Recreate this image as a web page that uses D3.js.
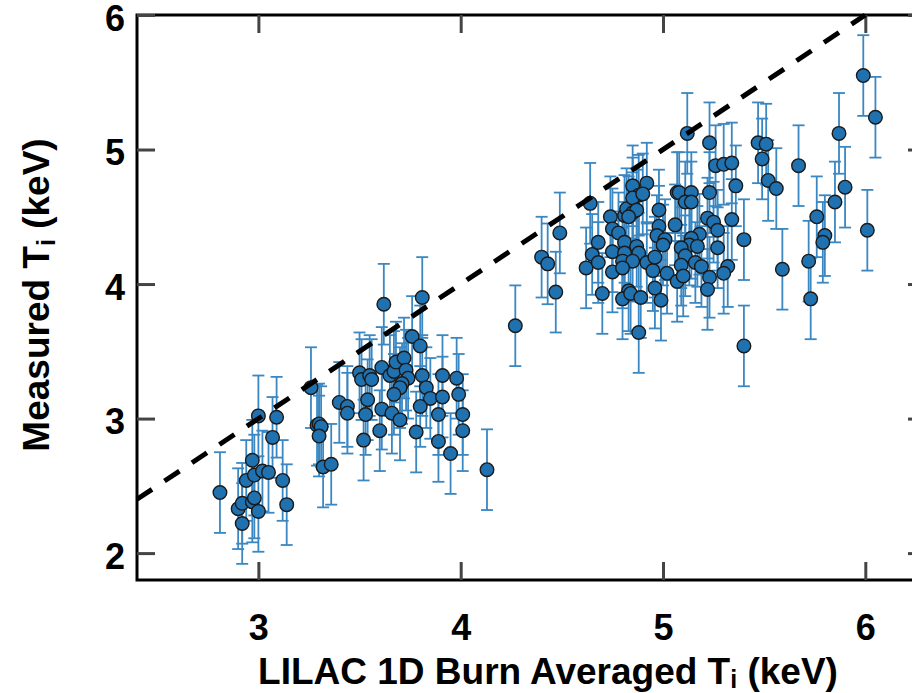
<!DOCTYPE html>
<html>
<head>
<meta charset="utf-8">
<script src="https://cdn.jsdelivr.net/npm/d3@7"></script>
<style>
  body { margin: 0; background: #fff; }
  svg { display: block; }
  text { font-family: "Liberation Sans", Arial, sans-serif; font-weight: bold; fill: #000; }
</style>
</head>
<body>
<svg id="chart"></svg>
<script>
// [LILAC burn averaged Ti, measured Ti, error half-width] in keV
var lowShots = [
  [2.81,2.45,0.3],[2.92,2.22,0.3],[2.90,2.33,0.3],[2.92,2.37,0.3],[2.97,2.38,0.3],
  [2.98,2.41,0.3],[3.00,2.31,0.3],[2.94,2.54,0.3],[2.97,2.69,0.3],[2.98,2.58,0.3],
  [3.02,2.61,0.3],[3.05,2.60,0.3],[3.12,2.54,0.3],[3.14,2.36,0.3],[3.00,3.02,0.3],
  [3.07,2.86,0.3],[3.09,3.01,0.3],[3.26,3.23,0.3],[3.29,2.95,0.3],[3.30,2.96,0.3],
  [3.31,2.94,0.3],[3.30,2.87,0.3],[3.32,2.64,0.3],[3.36,2.66,0.3],[3.40,3.12,0.3],
  [3.44,3.09,0.3],[3.44,3.04,0.3]
]
var midShots = [
  [3.50,3.34,0.3],[3.51,3.29,0.3],[3.55,3.32,0.3],[3.56,3.29,0.3],[3.54,3.14,0.3],
  [3.53,3.03,0.3],[3.52,2.84,0.3],[3.60,2.91,0.3],[3.61,3.38,0.3],[3.61,3.07,0.3],
  [3.62,3.85,0.3],[3.66,3.04,0.3],[3.70,2.99,0.3],[3.65,3.32,0.3],[3.67,3.35,0.3],
  [3.68,3.42,0.3],[3.72,3.45,0.3],[3.73,3.36,0.3],[3.74,3.30,0.3],[3.71,3.26,0.3],
  [3.70,3.23,0.3],[3.67,3.18,0.3],[3.76,3.61,0.3],[3.80,3.54,0.3],[3.81,3.90,0.3],
  [3.81,3.32,0.3],[3.83,3.23,0.3],[3.85,3.15,0.3],[3.80,3.09,0.3],[3.78,2.90,0.3],
  [3.91,3.32,0.3],[3.91,3.16,0.3],[3.98,3.30,0.3],[3.99,3.18,0.3],[3.89,3.03,0.3],
  [4.01,3.03,0.3],[4.01,2.91,0.3],[3.89,2.83,0.3],[3.95,2.74,0.3],[4.13,2.62,0.3]
]
var highShots = [
  [4.27,3.69,0.3],[4.40,4.20,0.3],[4.43,4.15,0.3],[4.49,4.38,0.3],[4.47,3.94,0.3],
  [4.62,4.12,0.3],[4.65,4.22,0.3],[4.68,4.31,0.3],[4.68,4.16,0.3],[4.70,3.93,0.3],
  [4.64,4.60,0.3],[4.74,4.50,0.3],[4.75,4.41,0.3],[4.78,4.38,0.3],[4.81,4.51,0.3],
  [4.82,4.56,0.3],[4.85,4.53,0.3],[4.81,4.31,0.3],[4.75,4.24,0.3],[4.81,4.23,0.3],
  [4.87,4.28,0.3],[4.88,4.23,0.3],[4.80,4.17,0.3],[4.85,4.17,0.3],[4.92,4.16,0.3],
  [4.75,4.09,0.3],[4.80,4.12,0.3],[4.83,3.95,0.3],[4.80,3.89,0.3],[4.84,3.93,0.3],
  [4.89,3.90,0.3],[4.88,3.64,0.3],[4.85,4.73,0.3],[4.92,4.75,0.3],[4.88,4.66,0.3],
  [4.85,4.64,0.3],[4.87,4.55,0.3],[4.83,4.50,0.3],[4.98,4.55,0.3],[5.06,4.44,0.3],
  [5.07,4.68,0.3],[4.98,4.43,0.3],[4.97,4.36,0.3],[5.01,4.33,0.3],[5.00,4.29,0.3],
  [4.95,4.10,0.3],[4.96,4.20,0.3],[5.02,4.08,0.3],[5.07,4.02,0.3],[4.96,3.97,0.3],
  [4.99,3.88,0.3],[5.12,5.12,0.3],[5.23,5.05,0.3],[5.26,4.88,0.3],[5.30,4.89,0.3],
  [5.34,4.90,0.3],[5.36,4.73,0.3],[5.23,4.68,0.3],[4.90,4.67,0.3],[5.08,4.68,0.3],
  [5.14,4.68,0.3],[5.11,4.61,0.3],[5.14,4.61,0.3],[5.22,4.49,0.3],[5.25,4.46,0.3],
  [5.34,4.48,0.3],[5.27,4.40,0.3],[5.18,4.37,0.3],[5.14,4.34,0.3],[5.13,4.29,0.3],
  [5.17,4.28,0.3],[5.09,4.27,0.3],[5.27,4.27,0.3],[5.40,4.33,0.3],[5.11,4.21,0.3],
  [5.09,4.14,0.3],[5.16,4.16,0.3],[5.19,4.13,0.3],[5.32,4.13,0.3],[5.30,4.08,0.3],
  [5.10,4.06,0.3],[5.23,4.05,0.3],[5.22,3.96,0.3],[5.40,3.54,0.3],[5.59,4.11,0.3],
  [5.47,5.05,0.3],[5.51,5.04,0.3],[5.49,4.93,0.3],[5.52,4.77,0.3],[5.56,4.71,0.3],
  [5.99,5.55,0.3],[6.05,5.24,0.3],[5.87,5.12,0.3],[5.67,4.88,0.3],[5.90,4.72,0.3],
  [5.85,4.61,0.3],[5.76,4.50,0.3],[5.80,4.36,0.3],[5.79,4.31,0.3],[5.72,4.17,0.3],
  [5.73,3.89,0.3],[6.01,4.40,0.3]
]
var xTicks = [3, 4, 5, 6]
var yTicks = [2, 3, 4, 5, 6]
var unityLine = [2.4, 6.0]   // y = x reference

var shots = lowShots.concat(midShots, highShots)

var screen = {width: 912, height: 693}
var plot = {left: 137, right: 926, top: 15, bottom: 580}
var tickLen = 18

var svg = d3.select("#chart")
    .attr("width", screen.width)
    .attr("height", screen.height)

var xScale = d3.scaleLinear().domain([2.4, 6.3]).range([plot.left, plot.right])
var yScale = d3.scaleLinear().domain([1.8, 6.0]).range([plot.bottom, plot.top])

// frame (box on, ticks pointing in)
svg.append("rect")
    .attr("x", plot.left).attr("y", plot.top)
    .attr("width", plot.right - plot.left).attr("height", plot.bottom - plot.top)
    .attr("fill", "none").attr("stroke", "#000").attr("stroke-width", 3)

var xAxis = d3.axisBottom(xScale).tickValues(xTicks).tickSize(tickLen).tickFormat(d3.format("d"))
var yAxis = d3.axisLeft(yScale).tickValues(yTicks).tickSize(tickLen).tickFormat(d3.format("d"))

var gx = svg.append("g").attr("transform", "translate(0," + plot.bottom + ")").call(xAxis)
gx.selectAll("line").attr("y2", -tickLen)
gx.selectAll("text").attr("y", 60).attr("dy", 0).style("font-size", "36px")

var gy = svg.append("g").attr("transform", "translate(" + plot.left + ",0)").call(yAxis)
gy.selectAll("line").attr("x2", tickLen)
gy.selectAll("text").attr("x", -12).attr("dy", "0.42em").style("font-size", "36px")

// mirrored ticks on top and right
svg.append("g").attr("transform", "translate(0," + plot.top + ")")
    .call(d3.axisTop(xScale).tickValues(xTicks).tickSize(-tickLen).tickFormat(""))
svg.append("g").attr("transform", "translate(" + plot.right + ",0)")
    .call(d3.axisRight(yScale).tickValues(yTicks).tickSize(-tickLen).tickFormat(""))

svg.selectAll(".domain").remove()
svg.selectAll(".tick line").attr("stroke", "#444").attr("stroke-width", 3)

// error bars
var bars = svg.append("g").attr("stroke", "#3a87c2").attr("stroke-width", 1.8).attr("fill", "none")
shots.forEach(function(d){
    var x = xScale(d[0])
    var y1 = yScale(d[1] - d[2]), y2 = yScale(d[1] + d[2])
    bars.append("line").attr("x1", x).attr("x2", x).attr("y1", y1).attr("y2", y2)
    bars.append("line").attr("x1", x - 6).attr("x2", x + 6).attr("y1", y1).attr("y2", y1)
    bars.append("line").attr("x1", x - 6).attr("x2", x + 6).attr("y1", y2).attr("y2", y2)
})

// markers
svg.append("g").selectAll("circle")
    .data(shots)
    .enter()
    .append("circle")
    .attr("cx", function(d){ return xScale(d[0]) })
    .attr("cy", function(d){ return yScale(d[1]) })
    .attr("r", 6.8)
    .attr("fill", "#2071b0")
    .attr("stroke", "#1a1a1a")
    .attr("stroke-width", 1.4)

// y = x dashed line
svg.append("line")
    .attr("x1", xScale(unityLine[0])).attr("y1", yScale(unityLine[0]))
    .attr("x2", xScale(unityLine[1])).attr("y2", yScale(unityLine[1]))
    .attr("stroke", "#000").attr("stroke-width", 5)
    .attr("stroke-dasharray", "18,15")

// axis titles
var xt = svg.append("text")
    .attr("x", 548).attr("y", 684)
    .attr("text-anchor", "middle")
    .style("font-size", "37px")
xt.append("tspan").text("LILAC 1D Burn Averaged T")
xt.append("tspan").text("i").attr("dy", 4).style("font-size", "25px")
xt.append("tspan").text(" (keV)").attr("dy", -4)

var yt = svg.append("text")
    .attr("transform", "translate(49,295) rotate(-90)")
    .attr("text-anchor", "middle")
    .style("font-size", "37px")
yt.append("tspan").text("Measured T")
yt.append("tspan").text("i").attr("dy", 6).style("font-size", "25px")
yt.append("tspan").text(" (keV)").attr("dy", -6)
</script>
</body>
</html>
